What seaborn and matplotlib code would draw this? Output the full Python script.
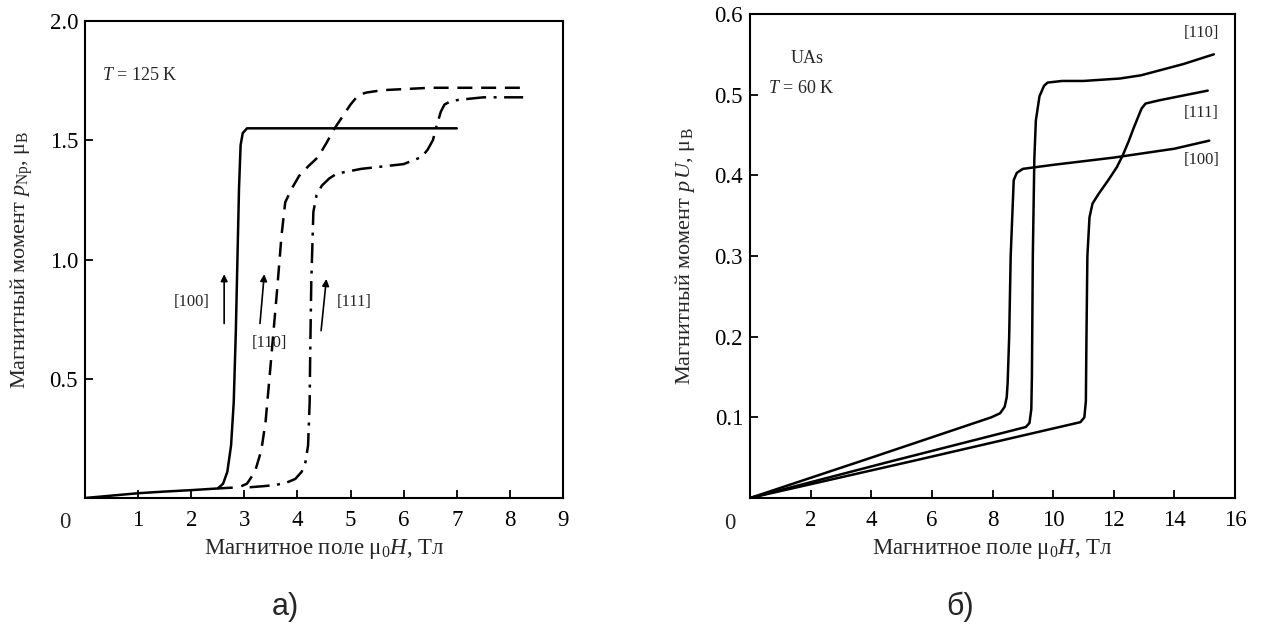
import numpy as np
import pandas as pd
import seaborn as sns
import matplotlib.pyplot as plt

# --- panel a) NpX, T = 125 K ---
x100_a = [0.0, 0.5, 1.0, 1.5, 2.0, 2.5, 2.6, 2.68, 2.75, 2.8, 2.84, 2.87, 2.9, 2.93, 2.97, 3.05, 3.15, 7.0]
y100_a = [0.0, 0.01, 0.02, 0.027, 0.033, 0.04, 0.06, 0.11, 0.22, 0.4, 0.7, 1.0, 1.3, 1.48, 1.53, 1.55, 1.55, 1.55]

x110_a = [2.5, 2.9, 3.05, 3.2, 3.32, 3.4, 3.48, 3.55, 3.62, 3.7, 3.77, 3.9, 4.03, 4.2, 4.39, 4.55, 4.7, 4.85, 5.0, 5.15, 5.3, 5.6, 6.5, 8.25]
y110_a = [0.04, 0.045, 0.06, 0.11, 0.2, 0.32, 0.52, 0.7, 0.88, 1.1, 1.24, 1.3, 1.35, 1.39, 1.43, 1.49, 1.55, 1.6, 1.65, 1.69, 1.70, 1.71, 1.72, 1.72]

x111_a = [3.1, 3.38, 3.6, 3.8, 3.96, 4.08, 4.15, 4.2, 4.23, 4.24, 4.26, 4.3, 4.36, 4.46, 4.6, 4.74, 5.2, 5.6, 6.0, 6.34, 6.45, 6.55, 6.62, 6.7, 6.77, 6.9, 7.06, 7.5, 8.25]
y111_a = [0.045, 0.05, 0.055, 0.065, 0.08, 0.11, 0.15, 0.22, 0.4, 0.6, 0.9, 1.2, 1.27, 1.31, 1.34, 1.36, 1.38, 1.39, 1.4, 1.43, 1.46, 1.5, 1.56, 1.62, 1.65, 1.665, 1.67, 1.68, 1.68]

# --- panel б) UAs, T = 60 K ---
x100_b = [0.0, 4.0, 7.96, 8.25, 8.4, 8.47, 8.5, 8.55, 8.6, 8.7, 8.8, 9.0, 10.0, 12.0, 14.0, 15.15]
y100_b = [0.0, 0.05, 0.1, 0.105, 0.113, 0.125, 0.143, 0.2, 0.3, 0.394, 0.403, 0.408, 0.413, 0.422, 0.433, 0.443]

x110_b = [0.0, 4.5, 9.1, 9.22, 9.28, 9.3, 9.33, 9.38, 9.43, 9.55, 9.7, 9.82, 10.3, 11.0, 12.2, 12.9, 13.5, 14.3, 15.3]
y110_b = [0.0, 0.044, 0.088, 0.093, 0.11, 0.15, 0.3, 0.42, 0.468, 0.498, 0.511, 0.515, 0.517, 0.517, 0.52, 0.524, 0.53, 0.538, 0.55]

x111_b = [0.0, 5.5, 10.9, 11.03, 11.08, 11.1, 11.13, 11.2, 11.3, 11.5, 11.8, 12.1, 12.3, 12.5, 12.65, 12.8, 12.92, 13.05, 13.5, 14.3, 15.1]
y111_b = [0.0, 0.047, 0.094, 0.1, 0.12, 0.2, 0.3, 0.348, 0.365, 0.377, 0.393, 0.41, 0.425, 0.443, 0.458, 0.472, 0.483, 0.489, 0.493, 0.499, 0.505]

xticks_a = [1, 2, 3, 4, 5, 6, 7, 8, 9]
yticks_a = [0.5, 1.0, 1.5, 2.0]
xticks_b = [2, 4, 6, 8, 10, 12, 14, 16]
yticks_b = [0.1, 0.2, 0.3, 0.4, 0.5, 0.6]

sns.set_style("white")
plt.rcParams['font.family'] = ['Liberation Serif', 'DejaVu Serif']
plt.rcParams['mathtext.fontset'] = 'custom'
plt.rcParams['mathtext.rm'] = 'Liberation Serif'
plt.rcParams['mathtext.it'] = 'Liberation Serif:italic'

fig = plt.figure(figsize=(12.69, 6.28), dpi=100)
ax1 = fig.add_axes([85 / 1269, 1 - 498 / 628, 478 / 1269, 477 / 628])
ax2 = fig.add_axes([750 / 1269, 1 - 498 / 628, 485 / 1269, 484 / 628])

lw = 1.8
df_a = pd.DataFrame({'x': x100_a, 'y': y100_a})
sns.lineplot(data=df_a, x='x', y='y', ax=ax1, color='black', lw=lw, sort=False, estimator=None)
df_a = pd.DataFrame({'x': x110_a, 'y': y110_a})
sns.lineplot(data=df_a, x='x', y='y', ax=ax1, color='black', lw=lw, sort=False, estimator=None)
ax1.lines[-1].set_dashes([6, 3.5])
df_a = pd.DataFrame({'x': x111_a, 'y': y111_a})
sns.lineplot(data=df_a, x='x', y='y', ax=ax1, color='black', lw=lw, sort=False, estimator=None)
ax1.lines[-1].set_dashes([8, 3, 1.2, 3])

for xs, ys in [(x100_b, y100_b), (x110_b, y110_b), (x111_b, y111_b)]:
    sns.lineplot(x=xs, y=ys, ax=ax2, color='black', lw=lw, sort=False, estimator=None)

ax1.set_xlim(0, 9)
ax1.set_ylim(0, 2.0)
ax2.set_xlim(0, 16)
ax2.set_ylim(0, 0.6)
ax1.set_xticks(xticks_a)
ax1.set_yticks(yticks_a)
ax1.set_yticklabels(['0.5', '1.0', '1.5', '2.0'])
ax2.set_xticks(xticks_b)
ax2.set_yticks(yticks_b)

for ax in (ax1, ax2):
    for s in ax.spines.values():
        s.set_visible(True)
        s.set_color('black')
        s.set_linewidth(1.5)
    ax.tick_params(direction='in', length=6, width=1.3, labelsize=16.5, pad=9,
                   top=False, right=False, bottom=True, left=True, colors='black')
    ax.tick_params(axis='y', pad=5)
    ax.set_xlabel('Магнитное поле μ$_0$$H$, Тл', fontsize=16.5, labelpad=4)
    ax.text(-0.03, -0.052, '0', transform=ax.transAxes, fontsize=16.5, ha='right', va='center')

ax1.set_ylabel('Магнитный момент $p_{\\rm Np}$, μ$_{\\rm B}$', fontsize=16)
ax1.yaxis.set_label_coords(-50 / 478, 0.5)
ax2.set_ylabel('Магнитный момент $p\\,U$, μ$_{\\rm B}$', fontsize=16)
ax2.yaxis.set_label_coords(-53 / 485, 0.5)

# annotations, panel a)
ax1.text(0.32, 1.77, '$T$ = 125 K', fontsize=13, va='center')
arr = dict(arrowstyle='-|>', color='black', lw=1.2, mutation_scale=10)
ax1.annotate('', xy=(2.62, 0.95), xytext=(2.62, 0.72), arrowprops=arr)
ax1.annotate('', xy=(3.38, 0.95), xytext=(3.29, 0.72), arrowprops=arr)
ax1.annotate('', xy=(4.55, 0.93), xytext=(4.44, 0.69), arrowprops=arr)
ax1.text(2.0, 0.82, '[100]', fontsize=12, ha='center', va='center')
ax1.text(3.48, 0.65, '[110]', fontsize=12, ha='center', va='center')
ax1.text(5.07, 0.82, '[111]', fontsize=12, ha='center', va='center')

# annotations, panel б)
ax2.text(1.88, 0.545, 'UAs', fontsize=13, ha='center', va='center')
ax2.text(0.6, 0.508, '$T$ = 60 K', fontsize=13, va='center')
ax2.text(14.9, 0.576, '[110]', fontsize=12, ha='center', va='center')
ax2.text(14.9, 0.477, '[111]', fontsize=12, ha='center', va='center')
ax2.text(14.9, 0.419, '[100]', fontsize=12, ha='center', va='center')

fig.text(285 / 1269, 1 - 607 / 628, 'а)', fontsize=22, family=['Liberation Sans'], ha='center', va='center')
fig.text(960 / 1269, 1 - 607 / 628, 'б)', fontsize=22, family=['Liberation Sans'], ha='center', va='center')

fig.savefig('out.png', dpi=100, facecolor='white')
